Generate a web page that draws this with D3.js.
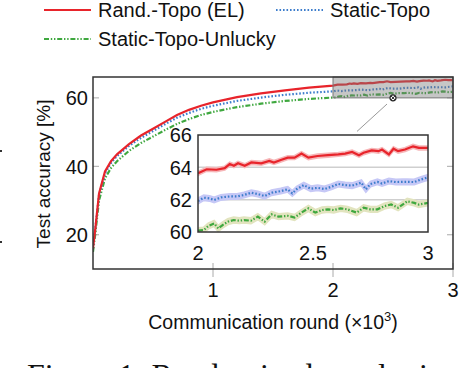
<!DOCTYPE html>
<html><head><meta charset="utf-8">
<script src="https://cdn.jsdelivr.net/npm/d3@7"></script>
<style>body{margin:0;background:#fff}svg{display:block}text{font-family:"Liberation Sans",Arial,sans-serif;fill:#111}</style>
</head><body>
<script>
// ---- data ----
const mainRounds = [0,0.02,0.05,0.1,0.15,0.2,0.3,0.4,0.5,0.6,0.7,0.8,0.9,1.0,1.2,1.4,1.6,1.8,2.0];
const mainRed   = [16,22,32,38.5,41.5,43.5,46.5,49,51,53,55,56.5,57.7,58.7,60.2,61.3,62.2,63.0,63.6];
const mainBlue  = [16,22,31.5,38,41,43,46,48.3,50.3,52.3,54.2,55.6,56.8,57.7,59.1,60.1,60.9,61.5,61.9];
const mainGreen = [15,20.5,30,36.5,39.5,41.5,44.5,46.8,48.7,50.6,52.4,53.8,55,55.9,57.3,58.3,59.1,59.7,60.1];

const redX = [2.0,2.038,2.08,2.116,2.138,2.156,2.174,2.203,2.232,2.275,2.31,2.33,2.36,2.39,2.42,2.45,2.48,2.52,2.565,2.61,2.64,2.67,2.70,2.72,2.755,2.785,2.80,2.83,2.85,2.87,2.9,2.935,2.96,3.0];
const redY = [63.63,63.88,63.85,63.95,64.2,64.1,64.25,64.1,64.3,64.25,64.4,64.3,64.45,64.6,64.6,64.85,64.6,64.7,64.75,64.8,64.85,64.95,64.75,64.9,65.05,65.0,65.1,64.8,65.15,65.0,65.1,65.3,65.2,65.2];
const blueX = [2.0,2.025,2.05,2.07,2.10,2.138,2.17,2.2,2.232,2.26,2.29,2.32,2.36,2.39,2.41,2.43,2.46,2.49,2.52,2.55,2.58,2.61,2.64,2.67,2.71,2.73,2.75,2.78,2.80,2.83,2.86,2.89,2.91,2.94,2.97,3.0];
const blueY = [61.92,62.12,62.08,61.98,62.14,62.2,62.2,62.29,62.43,62.35,62.22,62.43,62.53,62.64,62.39,62.66,62.9,62.68,62.73,62.66,62.8,62.97,62.9,62.87,63.05,62.64,62.97,63.1,63.0,63.15,63.09,63.1,63.1,63.09,63.25,63.38];
const greenX = [2.0,2.025,2.045,2.07,2.088,2.107,2.13,2.155,2.18,2.2,2.23,2.26,2.29,2.32,2.35,2.39,2.42,2.45,2.48,2.51,2.54,2.565,2.59,2.62,2.65,2.69,2.72,2.75,2.78,2.81,2.84,2.87,2.91,2.94,2.96,3.0];
const greenY = [60.08,60.12,60.37,60.53,60.22,60.43,60.64,60.74,60.7,60.74,60.7,60.95,60.64,61.09,60.95,61.0,60.9,61.2,61.46,61.2,61.36,61.4,61.36,61.46,61.4,61.2,61.5,61.4,61.4,61.6,61.7,61.5,61.9,61.8,61.7,61.8];
const bandHalf = {red:0.09, blue:0.14, green:0.15};

const seriesNames = ["Rand.-Topo (EL)","Static-Topo","Static-Topo-Unlucky"];
const mainYTicks = [20,40,60];
const mainXTicks = [1,2,3];
const insetYTicks = [60,62,64,66];
const insetXTicks = [2,2.5,3];
const insetXLabels = ["2","2.5","3"];

// ---- styles ----
const RED="#e8242b", BLUE="#3d7dcc", GREEN="#3fa83f";
const styles = [
  {c:RED, dash:null, band:"#f6b6b8"},
  {c:BLUE, dash:"1.6,1.9", band:"#c6c8f6"},
  {c:GREEN, dash:"5,1.8,1.4,1.8,1.4,1.8", band:"#e2e4bf"}
];
const FS=20;

const W=462,H=368;
const svg=d3.select("body").append("svg").attr("width",W).attr("height",H);

// main scales
const x=d3.scaleLinear().domain([0,3]).range([93,453]);
const y=d3.scaleLinear().domain([10,66.1]).range([269,77]);

const zip=(a,b)=>a.map((v,i)=>[v,b[i]]);
const mainData=[
  zip(mainRounds.concat(redX.slice(1)), mainRed.concat(redY.slice(1))),
  zip(mainRounds.concat(blueX.slice(1)), mainBlue.concat(blueY.slice(1))),
  zip(mainRounds.concat(greenX.slice(1)), mainGreen.concat(greenY.slice(1)))
];

const defs=svg.append("defs");
defs.append("clipPath").attr("id","mclip").append("rect").attr("x",93).attr("y",77).attr("width",360).attr("height",192);

// ticks main
const tk=svg.append("g").attr("stroke","#aaa").attr("stroke-width",1);
mainYTicks.forEach(v=>{
  tk.append("line").attr("x1",x(0)).attr("x2",x(0)+6).attr("y1",y(v)).attr("y2",y(v));
  tk.append("line").attr("x1",x(3)).attr("x2",x(3)-6).attr("y1",y(v)).attr("y2",y(v));
});
mainXTicks.forEach(v=>{
  tk.append("line").attr("x1",x(v)).attr("x2",x(v)).attr("y1",y(10)-6).attr("y2",y(10)+8);
});

const mg=svg.append("g").attr("clip-path","url(#mclip)");
[2,1,0].forEach(k=>{
  mg.append("path").datum(mainData[k]).attr("fill","none").attr("stroke",styles[k].c)
    .attr("stroke-width",2.2).attr("stroke-dasharray",styles[k].dash)
    .attr("d",d3.line().x(d=>x(d[0])).y(d=>y(d[1])));
});

// zoom rect
svg.append("rect").attr("x",x(2)).attr("y",y(66.1)).attr("width",x(3)-x(2)).attr("height",y(60)-y(66.1))
  .attr("fill","rgba(120,120,120,0.42)").attr("stroke","#777").attr("stroke-width",1);

// frame
svg.append("rect").attr("x",x(0)).attr("y",y(66.1)).attr("width",x(3)-x(0)).attr("height",y(10)-y(66.1))
  .attr("fill","none").attr("stroke","#333").attr("stroke-width",1.5);

// spy marker & connection
svg.append("line").attr("x1",x(2.45)).attr("y1",y(58.2)).attr("x2",x(2.2)).attr("y2",y(50.2))
  .attr("stroke","#999").attr("stroke-width",1);
const sp=svg.append("g").attr("transform",`translate(${x(2.5)},${y(60)})`);
sp.append("circle").attr("r",3).attr("fill","#fff").attr("stroke","#222").attr("stroke-width",1.2);
sp.append("path").attr("d","M-2,-2L2,2M-2,2L2,-2").attr("stroke","#222").attr("stroke-width",1);

// main tick labels
mainYTicks.forEach(v=>svg.append("text").attr("x",88).attr("y",y(v)).attr("dy","0.36em").attr("text-anchor","end").attr("font-size",FS).text(v));
mainXTicks.forEach(v=>svg.append("text").attr("x",x(v)).attr("y",297).attr("text-anchor","middle").attr("font-size",FS).text(v));

// axis labels
svg.append("text").attr("transform","translate(50,174) rotate(-90)").attr("text-anchor","middle").attr("font-size",19).text("Test accuracy [%]");
const xl=svg.append("text").attr("x",273).attr("y",329).attr("text-anchor","middle").attr("font-size",19.5);
xl.append("tspan").text("Communication round (×10");
xl.append("tspan").attr("font-size",13).attr("dy",-8).text("3");
xl.append("tspan").attr("dy",8).text(")");

// ---- inset ----
const ix=d3.scaleLinear().domain([2,3]).range([198,428]);
const iy=d3.scaleLinear().domain([60,66]).range([232,135]);
svg.append("rect").attr("x",198).attr("y",135).attr("width",230).attr("height",97).attr("fill","#fff");
defs.append("clipPath").attr("id","iclip").append("rect").attr("x",198).attr("y",135).attr("width",230).attr("height",97);
const ig=svg.append("g");
[62,64].forEach(v=>ig.append("line").attr("x1",ix(2)).attr("x2",ix(3)).attr("y1",iy(v)).attr("y2",iy(v)).attr("stroke","#cfcfcf").attr("stroke-width",1.5));
const insetData=[[redX,redY,bandHalf.red],[blueX,blueY,bandHalf.blue],[greenX,greenY,bandHalf.green]];
const ic=svg.append("g").attr("clip-path","url(#iclip)");
insetData.forEach((s,k)=>{
  const pts=zip(s[0],s[1]);
  ic.append("path").datum(pts).attr("fill",styles[k].band).attr("stroke",styles[k].band).attr("stroke-width",2.5)
    .attr("d",d3.area().x(d=>ix(d[0])).y0(d=>iy(d[1]-s[2])).y1(d=>iy(d[1]+s[2])));
});
insetData.forEach((s,k)=>{
  const pts=zip(s[0],s[1]);
  ic.append("path").datum(pts).attr("fill","none").attr("stroke",styles[k].c).attr("stroke-width",2.2)
    .attr("stroke-dasharray",styles[k].dash).attr("d",d3.line().x(d=>ix(d[0])).y(d=>iy(d[1])));
});
svg.append("rect").attr("x",198).attr("y",135).attr("width",230).attr("height",97).attr("fill","none").attr("stroke","#333").attr("stroke-width",1.5);
insetYTicks.forEach(v=>svg.append("text").attr("x",192).attr("y",iy(v)).attr("dy","0.36em").attr("text-anchor","end").attr("font-size",FS).text(v));
insetXTicks.forEach((v,i)=>svg.append("text").attr("x",ix(v)).attr("y",260).attr("text-anchor","middle").attr("font-size",FS).text(insetXLabels[i]));

// ---- legend ----
const leg=[{x:44,y:10,ty:17},{x:276,y:10,ty:17},{x:44,y:39,ty:46}];
leg.forEach((p,k)=>{
  svg.append("line").attr("x1",p.x).attr("x2",p.x+47).attr("y1",p.y).attr("y2",p.y)
    .attr("stroke",styles[k].c).attr("stroke-width",2.2).attr("stroke-dasharray",styles[k].dash);
  svg.append("text").attr("x",p.x+54).attr("y",p.ty).attr("font-size",FS).text(seriesNames[k]);
});

// caption (cut off at the bottom, as in the reference)
svg.append("text").attr("x",27).attr("y",386).style("font-family","'Liberation Serif','Times New Roman',serif").attr("font-size",32).text("Figure 1:  Randomized topologies");
// edge marks
[151,242].forEach(v=>svg.append("rect").attr("x",0).attr("y",v-1).attr("width",2).attr("height",2).attr("fill","#333"));
</script>
</body></html>
